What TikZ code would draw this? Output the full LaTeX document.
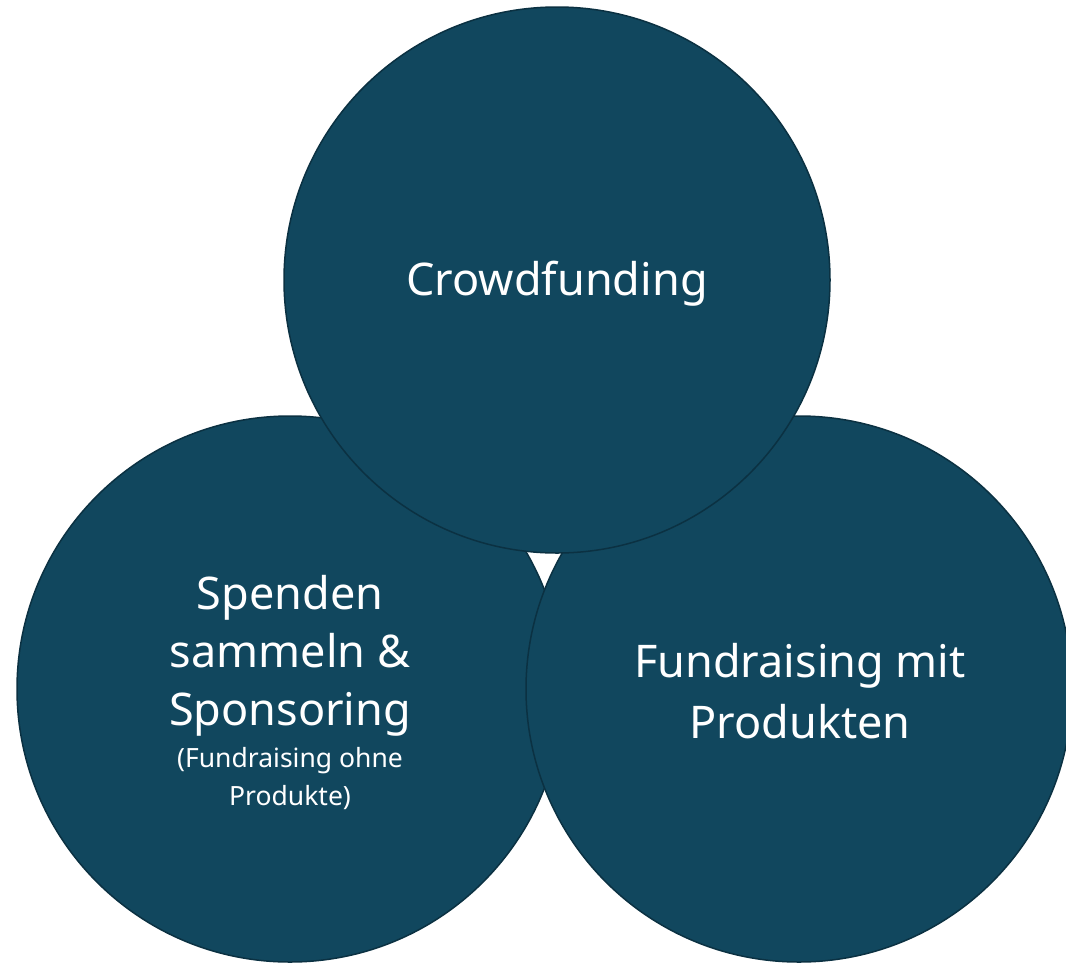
\documentclass[tikz,border=0pt]{standalone}
\usepackage{fontspec}
\setmainfont{Noto Sans}
\definecolor{fillc}{HTML}{11475E}
\definecolor{linec}{HTML}{0B3142}
\begin{document}
\begin{tikzpicture}[x=1pt,y=-1pt,
  blob/.style={circle, fill=fillc, draw=linec, line width=1.5pt, minimum size=546pt, inner sep=0pt},
  bigtext/.style={text=white, font=\fontsize{45}{58}\selectfont, align=center, inner sep=0pt, anchor=base},
  smalltext/.style={text=white, font=\fontsize{26.5}{38}\selectfont, align=center, inner sep=0pt, anchor=base}]
\useasboundingbox (0,0) rectangle (1066,962);
\node[blob] (L) at (290,689) {};
\node[blob] (R) at (799,689) {};
\node[blob] (T) at (557,280) {};
\node[bigtext] (tT) at (557,295) {Crowdfunding};
\node[bigtext] (tL) at (290,725) {Spenden\\sammeln \&\\Sponsoring};
\node[smalltext] (tLs) at (290,805) {(Fundraising ohne\\Produkte)};
\node[bigtext,font=\fontsize{45}{61}\selectfont] (tR) at (800,738) {Fundraising mit\\Produkten};
\end{tikzpicture}
\end{document}
